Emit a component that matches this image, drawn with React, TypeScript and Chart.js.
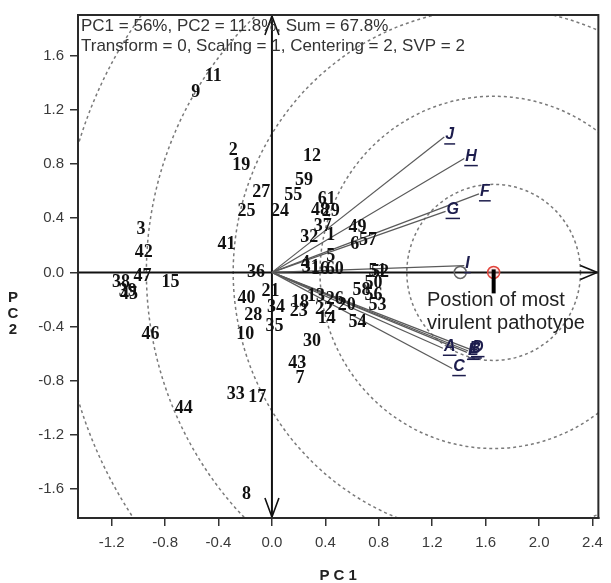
import React, { useEffect, useRef } from 'react';
import { Chart, registerables } from 'chart.js';

Chart.register(...registerables);

// ---- Data ----
const genotypeLabels = [
  '1','2','3','4','5','6','7','8','9','10','11','12','13','14','15','16','17','18','19','20',
  '21','22','23','24','25','26','27','28','29','30','31','32','33','34','35','36','37','38','39','40',
  '41','42','43','44','45','46','47','48','49','50','51','52','53','54','55','56','57','58','59','60','61',
];
const genotypePC1 = [
  0.44, -0.29, -0.98, 0.25, 0.44, 0.62, 0.21, -0.19, -0.57, -0.20, -0.44, 0.30, 0.33, 0.41, -0.76, 0.36, -0.11, 0.21, -0.23, 0.56,
  -0.01, 0.39, 0.20, 0.06, -0.19, 0.47, -0.08, -0.14, 0.44, 0.30, 0.29, 0.28, -0.27, 0.03, 0.02, -0.12, 0.38, -1.13, -1.08, -0.19,
  -0.34, -0.96, 0.19, -0.66, -1.07, -0.91, -0.97, 0.36, 0.64, 0.76, 0.79, 0.81, 0.79, 0.64, 0.16, 0.76, 0.72, 0.67, 0.24, 0.47, 0.41,
];
const genotypePC2 = [
  0.27, 0.90, 0.32, 0.07, 0.12, 0.21, -0.78, -1.64, 1.33, -0.46, 1.45, 0.86, -0.18, -0.34, -0.07, 0.02, -0.92, -0.22, 0.79, -0.24,
  -0.14, -0.27, -0.29, 0.45, 0.45, -0.20, 0.59, -0.32, 0.45, -0.51, 0.04, 0.26, -0.90, -0.26, -0.40, 0.0, 0.34, -0.07, -0.14, -0.19,
  0.21, 0.15, -0.67, -1.00, -0.16, -0.46, -0.03, 0.46, 0.33, -0.08, 0.01, 0.0, -0.24, -0.37, 0.57, -0.17, 0.24, -0.13, 0.68, 0.02, 0.54,
];

const pathotypeLabels = ['A', 'B', 'C', 'D', 'E', 'F', 'G', 'H', 'I', 'J'];
const pathotypePC1 = [1.28, 1.47, 1.35, 1.49, 1.46, 1.55, 1.30, 1.44, 1.44, 1.29];
const pathotypePC2 = [-0.56, -0.58, -0.71, -0.57, -0.59, 0.58, 0.45, 0.84, 0.05, 1.00];

const averagePC1 = [1.41];
const averagePC2 = [0.0];
const idealPC1 = [1.66];
const idealPC2 = [0.0];
const circleRadii = [0.65, 1.3, 1.95, 2.6, 3.25];

const xTicks = [-1.2, -0.8, -0.4, 0.0, 0.4, 0.8, 1.2, 1.6, 2.0, 2.4];
const yTicks = [-1.6, -1.2, -0.8, -0.4, 0.0, 0.4, 0.8, 1.2, 1.6];

const headerLines = [
  'PC1 = 56%, PC2 = 11.8%, Sum = 67.8%',
  'Transform = 0, Scaling = 1, Centering = 2, SVP = 2',
];
const noteLines = ['Postion of most', 'virulent pathotype'];

const SANS = '"Liberation Sans", Arial, sans-serif';
const SERIF = '"Liberation Serif", "Times New Roman", serif';

const biplotPlugin = {
  id: 'biplot',
  beforeDatasetsDraw(chart: any) {
    const { ctx, chartArea: a, scales } = chart;
    const x = scales.x;
    const y = scales.y;
    const cx = x.getPixelForValue(idealPC1[0]);
    const cy = y.getPixelForValue(idealPC2[0]);
    const ppx = x.getPixelForValue(1) - x.getPixelForValue(0);
    const ppy = y.getPixelForValue(0) - y.getPixelForValue(1);
    ctx.save();
    ctx.beginPath();
    ctx.rect(a.left, a.top, a.right - a.left, a.bottom - a.top);
    ctx.clip();
    ctx.setLineDash([3, 3]);
    ctx.strokeStyle = '#7a7a7a';
    ctx.lineWidth = 1.5;
    circleRadii.forEach((r) => {
      ctx.beginPath();
      ctx.ellipse(cx, cy, r * ppx, r * ppy, 0, 0, Math.PI * 2);
      ctx.stroke();
    });
    ctx.setLineDash([]);
    // axes through origin
    const x0 = x.getPixelForValue(0);
    const y0 = y.getPixelForValue(0);
    ctx.strokeStyle = '#111';
    ctx.lineWidth = 2;
    ctx.beginPath();
    ctx.moveTo(a.left, y0);
    ctx.lineTo(a.right, y0);
    ctx.moveTo(x0, a.top);
    ctx.lineTo(x0, a.bottom);
    ctx.stroke();
    ctx.lineWidth = 1.6;
    ctx.beginPath();
    // right arrow
    ctx.moveTo(a.right - 18, y0 - 7);
    ctx.lineTo(a.right - 1, y0);
    ctx.lineTo(a.right - 18, y0 + 7);
    // top arrow
    ctx.moveTo(x0 - 7, a.top + 20);
    ctx.lineTo(x0, a.top + 1);
    ctx.lineTo(x0 + 7, a.top + 20);
    // bottom arrow
    ctx.moveTo(x0 - 7, a.bottom - 20);
    ctx.lineTo(x0, a.bottom - 1);
    ctx.lineTo(x0 + 7, a.bottom - 20);
    ctx.stroke();
    ctx.restore();
  },
  afterDatasetsDraw(chart: any) {
    const { ctx, chartArea: a, scales } = chart;
    const x = scales.x;
    const y = scales.y;
    ctx.save();
    // genotype numbers
    const meta = chart.getDatasetMeta(0);
    ctx.font = `bold 18px ${SERIF}`;
    ctx.fillStyle = '#111';
    ctx.textAlign = 'center';
    ctx.textBaseline = 'middle';
    meta.data.forEach((el: any, i: number) => {
      ctx.fillText(genotypeLabels[i], el.x, el.y);
    });
    // pathotype labels
    ctx.font = `italic bold 16px ${SANS}`;
    ctx.fillStyle = '#1d1d4d';
    ctx.strokeStyle = '#1d1d4d';
    ctx.textAlign = 'left';
    ctx.lineWidth = 1.5;
    pathotypeLabels.forEach((lab, i) => {
      const px = x.getPixelForValue(pathotypePC1[i]) + 1;
      const py = y.getPixelForValue(pathotypePC2[i]) - 2;
      ctx.fillText(lab, px, py);
      const w = ctx.measureText(lab).width;
      ctx.beginPath();
      ctx.moveTo(px - 1, py + 9);
      ctx.lineTo(px + w + 1, py + 9);
      ctx.stroke();
    });
    // ideal marker thick bar
    const cx = x.getPixelForValue(idealPC1[0]);
    const cy = y.getPixelForValue(idealPC2[0]);
    ctx.strokeStyle = '#000';
    ctx.lineWidth = 4;
    ctx.beginPath();
    ctx.moveTo(cx, cy - 3);
    ctx.lineTo(cx, cy + 21);
    ctx.stroke();
    // note text
    ctx.font = `20px ${SANS}`;
    ctx.fillStyle = '#222';
    ctx.textBaseline = 'middle';
    ctx.fillText(noteLines[0], 427, 300);
    ctx.fillText(noteLines[1], 427, 323);
    // header text
    ctx.font = `17px ${SANS}`;
    ctx.fillStyle = '#333';
    ctx.fillText(headerLines[0], a.left + 3, a.top + 11);
    ctx.fillText(headerLines[1], a.left + 3, a.top + 31);
    // frame
    ctx.strokeStyle = '#2a2a2a';
    ctx.lineWidth = 2;
    ctx.strokeRect(a.left, a.top, a.right - a.left, a.bottom - a.top);
    // axis titles
    ctx.font = `bold 15px ${SANS}`;
    ctx.fillStyle = '#222';
    ctx.textAlign = 'center';
    ctx.fillText('P C 1', (a.left + a.right) / 2, 576);
    ctx.fillText('P', 13, 298);
    ctx.fillText('C', 13, 314);
    ctx.fillText('2', 13, 330);
    ctx.restore();
  },
};

export default function App() {
  const ref = useRef<HTMLCanvasElement | null>(null);
  useEffect(() => {
    if (!ref.current) return;
    const genotypeData = genotypePC1.map((v, i) => ({ x: v, y: genotypePC2[i] }));
    const vectorSets = pathotypeLabels.map((lab, i) => ({
      label: lab,
      data: [
        { x: 0, y: 0 },
        { x: pathotypePC1[i], y: pathotypePC2[i] },
      ],
      showLine: true,
      borderColor: '#5a5a5a',
      borderWidth: 1.2,
      pointRadius: 0,
    }));
    const tickFont = { family: SANS, size: 15 };
    const chart = new Chart(ref.current, {
      type: 'scatter',
      data: {
        datasets: [
          { label: 'genotypes', data: genotypeData, pointRadius: 0, borderWidth: 0 } as any,
          ...vectorSets,
          {
            label: 'average',
            data: averagePC1.map((v, i) => ({ x: v, y: averagePC2[i] })),
            pointRadius: 6,
            borderColor: '#666',
            backgroundColor: 'rgba(255,255,255,0)',
            borderWidth: 1.5,
          },
          {
            label: 'ideal',
            data: idealPC1.map((v, i) => ({ x: v, y: idealPC2[i] })),
            pointRadius: 6,
            borderColor: '#e2453c',
            backgroundColor: 'rgba(255,190,190,0.35)',
            borderWidth: 1.5,
          },
        ],
      },
      options: {
        animation: false,
        responsive: false,
        devicePixelRatio: 1,
        layout: { padding: { top: 12, right: 7, bottom: 0, left: 0 } },
        plugins: { legend: { display: false }, tooltip: { enabled: false } },
        scales: {
          x: {
            type: 'linear',
            min: -1.452,
            max: 2.444,
            afterBuildTicks: (s: any) => {
              s.ticks = xTicks.map((v) => ({ value: v }));
            },
            afterFit: (s: any) => {
              s.height = 65;
            },
            ticks: {
              callback: (v: any) => Number(v).toFixed(1),
              font: tickFont,
              color: '#3a3a3a',
              padding: 8,
              maxRotation: 0,
              autoSkip: false,
            },
            grid: { drawOnChartArea: false, tickLength: 8, color: '#333', lineWidth: 1.5 },
            border: { display: true, color: '#2a2a2a', width: 2 },
          },
          y: {
            type: 'linear',
            min: -1.813,
            max: 1.90,
            afterBuildTicks: (s: any) => {
              s.ticks = yTicks.map((v) => ({ value: v }));
            },
            afterFit: (s: any) => {
              s.width = 78;
            },
            ticks: {
              callback: (v: any) => Number(v).toFixed(1),
              font: tickFont,
              color: '#3a3a3a',
              padding: 6,
              autoSkip: false,
            },
            grid: { drawOnChartArea: false, tickLength: 8, color: '#333', lineWidth: 1.5 },
            border: { display: true, color: '#2a2a2a', width: 2 },
          },
        },
      } as any,
      plugins: [biplotPlugin],
    });
    return () => chart.destroy();
  }, []);
  return (
    <div style={{ position: 'absolute', left: 0, top: 0, width: 611, height: 583, background: '#fff' }}>
      <canvas ref={ref} width={611} height={583} />
    </div>
  );
}
